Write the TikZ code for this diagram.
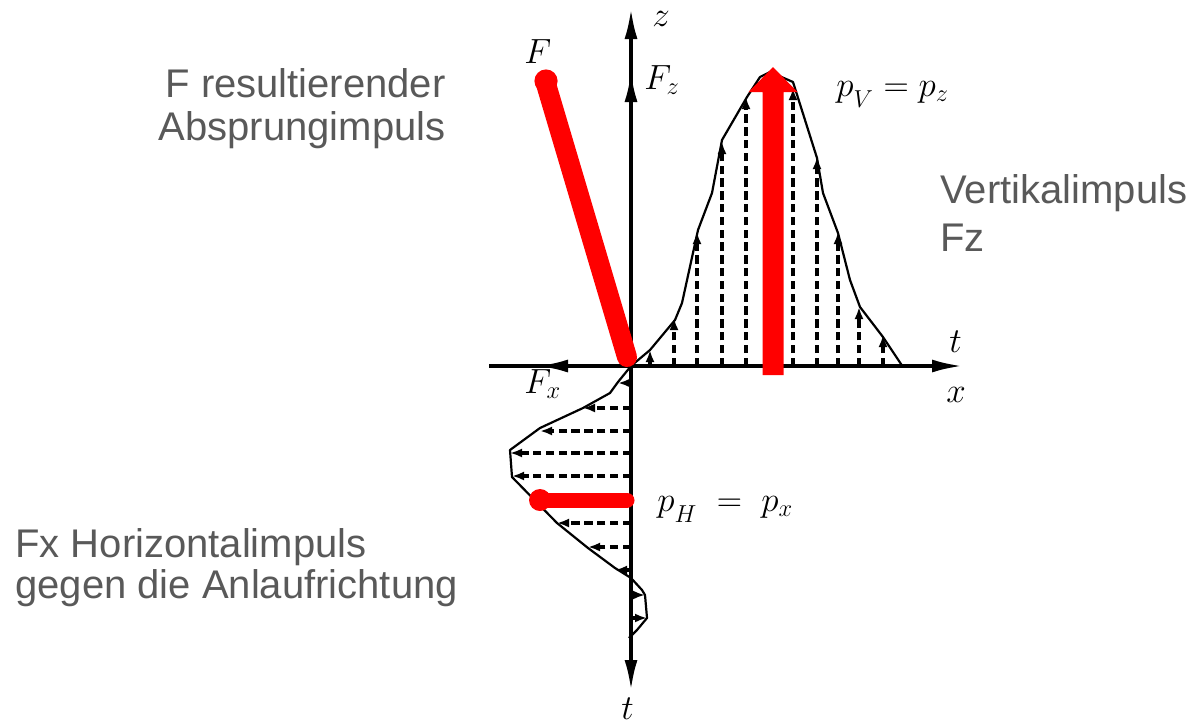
\RequirePackage{fix-cm}
\documentclass[tikz,border=0pt]{standalone}
\usepackage{fontspec}
\newfontfamily\labelfont{Liberation Sans}
\usetikzlibrary{arrows.meta}
\definecolor{labelgray}{RGB}{89,89,89}
\definecolor{pured}{RGB}{255,0,0}
\begin{document}
\begin{tikzpicture}[x=0.5pt,y=-0.5pt,
  axis/.style={line width=1.6pt},
  axhead/.style={-{Latex[length=15pt,width=6.5pt]}},
  curve/.style={line width=1.1pt, line join=round},
  dasharrow/.style={line width=1.6pt, dash pattern=on 4.2pt off 2.2pt, -{Latex[length=6pt,width=4.5pt]}},
  gray label/.style={font=\labelfont\fontsize{20}{24}\selectfont, text=labelgray, inner sep=0pt},
  mathlabel/.style={font=\fontsize{17.5}{21}\selectfont, inner sep=0pt}
]
\useasboundingbox (0,0) rectangle (1194,725);

% key points
\coordinate (O) at (631,366);
\coordinate (ztop) at (631,9);
\coordinate (tbot) at (631,690);
\coordinate (xright) at (962,366);
\coordinate (xleft) at (489,366);
\coordinate (Fzhead) at (631,72);
\coordinate (Fxhead) at (538,366);

% axes
\draw[axis] (O) -- (xleft);
\draw[axis, axhead] (O) -- (xright);
\draw[axis, axhead] (O) -- (ztop);
\draw[axis, axhead] (O) -- (tbot);
\draw[axis, axhead] (O) -- (Fzhead);
\draw[axis, axhead] (O) -- (Fxhead);

% vertical force curve
\draw[curve] (O) -- (650,350) -- (675,320) -- (682,303) -- (698,230) -- (712,193)
  -- (722,140) -- (747,97) -- (760,77) -- (770,72) -- (793,82) -- (817,158)
  -- (823,193) -- (838,233) -- (850,280) -- (860,307) -- (883,337) -- (903,367);
\foreach \px/\py in {650/350, 674/318, 697/232, 722/142, 746/97, 793/88,
                     817/157, 838/232, 859/307, 883/335}
  \draw[dasharrow] (\px,366) -- (\px,\py);

% horizontal force curve
\draw[curve] (O) -- (618,382) -- (610,393) -- (583,408) -- (540,428) -- (510,450)
  -- (512,477) -- (557,523) -- (588,548) -- (615,568) -- (631,578) -- (642,590)
  -- (645,595) -- (647,618) -- (637,630) -- (629,638);
\foreach \py/\px in {383/618, 408/583, 431/540, 453/510, 476/512, 523/557,
                     547/588, 570/615, 595/645, 618/647}
  \draw[dasharrow] (631,\py) -- (\px,\py);

% red resultant arrows
\draw[pured, line width=10pt, line cap=round] (627,357) -- (546,84);
\fill[pured] (546,81) circle (5.8pt);
\fill[pured] (762.5,375) -- (762.5,92) -- (748.5,92) -- (773,67) -- (797.5,92)
  -- (783.5,92) -- (783.5,375) -- cycle;
\draw[pured, line width=7.5pt, line cap=round] (627,500) -- (541,500);
\fill[pured] (540,500) circle (5.5pt);

% math labels
\node[mathlabel, anchor=base west] (Flab) at (524,63) {$F$};
\node[mathlabel, anchor=base west] (zlab) at (652,26) {$z$};
\node[mathlabel, anchor=base west] (Fzlab) at (644,89) {$F_z$};
\node[mathlabel, anchor=base west] (pvlab) at (836,96) {$p_{\lower3pt\hbox{$\scriptstyle V$}} = p_z$};
\node[mathlabel, anchor=base west] (tlab) at (949,352) {$t$};
\node[mathlabel, anchor=base west] (xlab) at (946,402) {$x$};
\node[mathlabel, anchor=base west] (Fxlab) at (524,393) {$F_x$};
\node[mathlabel, anchor=base west] (phlab) at (657,511) {$p_{\lower3pt\hbox{$\scriptstyle H$}} \;=\; p_x$};
\node[mathlabel, anchor=base west] (tblab) at (621,719) {$t$};

% text labels
\node[gray label, anchor=base east] (Fres1) at (446,97) {F resultierender};
\node[gray label, anchor=base east] (Fres2) at (446,140) {Absprungimpuls};
\node[gray label, anchor=base west] (vert1) at (940,203) {Vertikalimpuls};
\node[gray label, anchor=base west] (vert2) at (940,251) {Fz};
\node[gray label, anchor=base west] (hor1) at (15,557) {Fx Horizontalimpuls};
\node[gray label, anchor=base west] (hor2) at (15,598) {gegen die Anlaufrichtung};
\end{tikzpicture}
\end{document}
